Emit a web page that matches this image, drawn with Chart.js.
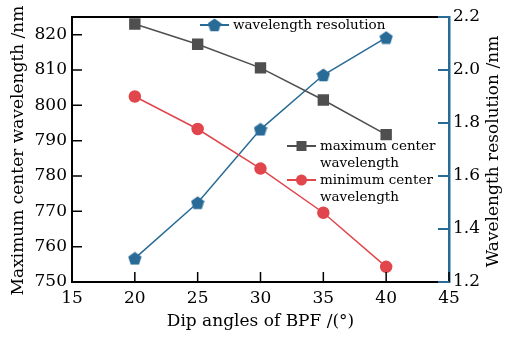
<!DOCTYPE html>
<html>
<head>
<meta charset="utf-8">
<script src="https://cdn.jsdelivr.net/npm/chart.js@4.4.0/dist/chart.umd.min.js"></script>
<style>
  html, body { margin: 0; padding: 0; background: #fff; }
  #wrap { width: 505px; height: 338px; }
</style>
</head>
<body>
<div id="wrap"><canvas id="bpfChart"></canvas></div>
<script>
// data
const angles = [20, 25, 30, 35, 40];
const maxCenter = [823.0, 817.3, 810.6, 801.5, 791.7];
const minCenter = [802.5, 793.3, 782.1, 769.6, 754.3];
const resolution = [1.289, 1.499, 1.776, 1.981, 2.122];

const xTicks = [15, 20, 25, 30, 35, 40, 45];
const leftTicks = [750, 760, 770, 780, 790, 800, 810, 820];
const rightTicks = [1.2, 1.4, 1.6, 1.8, 2.0, 2.2];

const GRAY = '#4f4f4f';
const RED = '#e0464c';
const BLUE = '#286b97';
const SERIF = '"DejaVu Serif", serif';

// pentagon marker
function pentagon(size, color) {
    const c = document.createElement('canvas');
    c.width = size; c.height = size;
    const g = c.getContext('2d');
    const r = size / 2;
    g.beginPath();
    for (let i = 0; i < 5; i++) {
        const a = -Math.PI / 2 + i * 2 * Math.PI / 5;
        const px = r + r * Math.cos(a);
        const py = r + 0.5 + r * Math.sin(a);
        if (i === 0) g.moveTo(px, py); else g.lineTo(px, py);
    }
    g.closePath();
    g.fillStyle = color;
    g.fill();
    return c;
}
const penta = pentagon(14, BLUE);

function pts(ys) {
    return angles.map((a, i) => ({ x: a, y: ys[i] }));
}

// inner ticks, frame, titles and the in-plot legend
const decor = {
    id: 'decor',
    afterDraw(chart) {
        const ctx = chart.ctx;
        const area = chart.chartArea;
        const sx = chart.scales.x, sl = chart.scales.y, sr = chart.scales.y2;
        ctx.save();
        ctx.lineWidth = 2;
        ctx.strokeStyle = '#000';
        ctx.beginPath();
        ctx.moveTo(area.left - 1, area.top);
        ctx.lineTo(area.right, area.top);
        ctx.stroke();
        ctx.lineWidth = 1.5;
        ctx.beginPath();
        xTicks.forEach(v => {
            const px = sx.getPixelForValue(v);
            ctx.moveTo(px, area.bottom);
            ctx.lineTo(px, area.bottom - 10);
        });
        leftTicks.forEach(v => {
            const py = sl.getPixelForValue(v);
            ctx.moveTo(area.left, py);
            ctx.lineTo(area.left + 10, py);
        });
        ctx.stroke();
        ctx.strokeStyle = BLUE;
        ctx.lineWidth = 2;
        ctx.beginPath();
        rightTicks.forEach(v => {
            const py = sr.getPixelForValue(v);
            ctx.moveTo(area.right, py);
            ctx.lineTo(area.right - 11, py);
        });
        ctx.stroke();

        // axis titles
        ctx.fillStyle = '#000';
        ctx.font = '17px ' + SERIF;
        ctx.textAlign = 'center';
        ctx.textBaseline = 'middle';
        ctx.fillText('Dip angles of BPF /(°)', (area.left + area.right) / 2, 322);
        ctx.save();
        ctx.translate(19, (area.top + area.bottom) / 2 + 1);
        ctx.rotate(-Math.PI / 2);
        ctx.fillText('Maximum center wavelength /nm', 0, 0);
        ctx.restore();
        ctx.save();
        ctx.translate(494, (area.top + area.bottom) / 2 + 2);
        ctx.rotate(-Math.PI / 2);
        ctx.fillText('Wavelength resolution /nm', 0, 0);
        ctx.restore();

        // legend
        ctx.font = '13.5px ' + SERIF;
        ctx.textAlign = 'left';
        const items = [
            { x: 200, y: 25, color: BLUE, mark: 'penta', lines: ['wavelength resolution'] },
            { x: 287, y: 146, color: GRAY, mark: 'rect', lines: ['maximum center', 'wavelength'] },
            { x: 287, y: 180, color: RED, mark: 'circle', lines: ['minimum center', 'wavelength'] }
        ];
        items.forEach(it => {
            ctx.strokeStyle = it.color;
            ctx.fillStyle = it.color;
            ctx.lineWidth = 2;
            ctx.beginPath();
            ctx.moveTo(it.x, it.y);
            ctx.lineTo(it.x + 29, it.y);
            ctx.stroke();
            const cx = it.x + 14.5;
            if (it.mark === 'penta') {
                ctx.drawImage(penta, cx - 7, it.y - 7);
            } else if (it.mark === 'rect') {
                ctx.fillRect(cx - 5, it.y - 5, 10, 10);
            } else {
                ctx.beginPath();
                ctx.arc(cx, it.y, 5.5, 0, Math.PI * 2);
                ctx.fill();
            }
            ctx.fillStyle = '#000';
            it.lines.forEach((t, i) => ctx.fillText(t, it.x + 33, it.y + i * 17));
        });
        ctx.restore();
    }
};

Chart.defaults.font.family = SERIF;
Chart.defaults.color = '#000';

new Chart(document.getElementById('bpfChart'), {
    type: 'line',
    data: {
        datasets: [{
            label: 'maximum center wavelength',
            data: pts(maxCenter),
            yAxisID: 'y',
            borderColor: GRAY,
            backgroundColor: GRAY,
            borderWidth: 1.5,
            pointStyle: 'rect',
            pointRadius: 7,
            pointHoverRadius: 7
        }, {
            label: 'minimum center wavelength',
            data: pts(minCenter),
            yAxisID: 'y',
            borderColor: RED,
            backgroundColor: RED,
            borderWidth: 1.5,
            pointStyle: 'circle',
            pointRadius: 5.5,
            pointHoverRadius: 5.5
        }, {
            label: 'wavelength resolution',
            data: pts(resolution),
            yAxisID: 'y2',
            borderColor: BLUE,
            backgroundColor: BLUE,
            borderWidth: 1.5,
            pointStyle: penta
        }]
    },
    options: {
        responsive: true,
        maintainAspectRatio: false,
        animation: false,
        layout: { padding: { top: 17, left: 0, right: 0, bottom: 0 } },
        plugins: { legend: { display: false }, tooltip: { enabled: false } },
        scales: {
            x: {
                type: 'linear',
                min: 15,
                max: 45,
                afterBuildTicks: s => { s.ticks = xTicks.map(v => ({ value: v })); },
                afterFit: s => { s.height = 56; },
                grid: { display: false, drawTicks: false },
                border: { display: true, color: '#000', width: 2 },
                ticks: { font: { size: 17 }, padding: 6, maxRotation: 0 }
            },
            y: {
                position: 'left',
                min: 750,
                max: 825,
                afterBuildTicks: s => { s.ticks = leftTicks.map(v => ({ value: v })); },
                afterFit: s => { s.width = 72; },
                grid: { display: false, drawTicks: false },
                border: { display: true, color: '#000', width: 2 },
                ticks: { font: { size: 17 }, padding: 5 }
            },
            y2: {
                position: 'right',
                min: 1.2,
                max: 2.2,
                afterBuildTicks: s => { s.ticks = rightTicks.map(v => ({ value: v })); },
                afterFit: s => { s.width = 56; },
                grid: { display: false, drawTicks: false },
                border: { display: true, color: BLUE, width: 2.5 },
                ticks: { font: { size: 17 }, padding: 4, callback: v => v.toFixed(1) }
            }
        }
    },
    plugins: [decor]
});
</script>
</body>
</html>
